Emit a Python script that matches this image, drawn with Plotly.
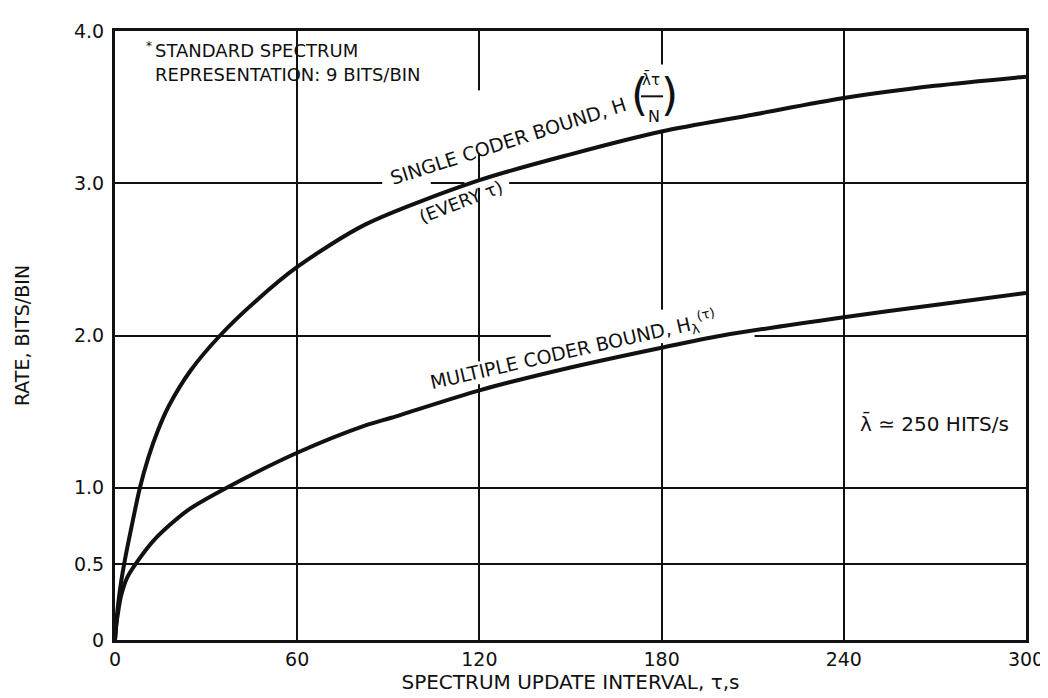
import plotly.graph_objects as go

# ---- data ----
tau_single = [0, 0.5, 1, 2, 3.2, 5, 8.2, 11, 14, 17.8, 24.9, 34.6, 46.6, 60, 82.5, 120, 150, 180, 210, 240, 270, 300]
rate_single = [0, 0.13, 0.23, 0.38, 0.52, 0.70, 1.0, 1.2, 1.37, 1.54, 1.77, 2.0, 2.23, 2.45, 2.73, 3.02, 3.19, 3.34, 3.45, 3.56, 3.64, 3.70]

tau_multi = [0, 0.5, 1, 2, 4, 7.5, 13, 23.8, 36.8, 60, 82.5, 91, 120, 150, 180, 200, 240, 270, 300]
rate_multi = [0, 0.11, 0.18, 0.29, 0.41, 0.52, 0.66, 0.85, 1.0, 1.23, 1.41, 1.46, 1.64, 1.79, 1.92, 2.0, 2.12, 2.2, 2.28]

x_ticks = [0, 60, 120, 180, 240, 300]
x_ticklabels = ["0", "60", "120", "180", "240", "300"]
y_ticks = [0, 0.5, 1.0, 2.0, 3.0, 4.0]
y_ticklabels = ["0", "0.5", "1.0", "2.0", "3.0", "4.0"]

FONT = "DejaVu Sans, Liberation Sans, sans-serif"
INK = "#111111"

fig = go.Figure()
for tx, ty in ((tau_single, rate_single), (tau_multi, rate_multi)):
    fig.add_trace(go.Scatter(x=tx, y=ty, mode="lines",
                             line=dict(color=INK, width=4, shape="spline", smoothing=0.8),
                             showlegend=False, hoverinfo="skip"))

ann = []
def A(text, x, y, size=18, angle=0, xanchor="center", yanchor="middle", align="center"):
    ann.append(dict(text=text, x=x, y=y, xref="x", yref="y", showarrow=False,
                    textangle=angle, xanchor=xanchor, yanchor=yanchor, align=align,
                    font=dict(family=FONT, size=size, color=INK), borderpad=0))

A("*", 12.6, 3.90, size=12, xanchor="right")
A("STANDARD SPECTRUM", 13.0, 3.872, size=18, xanchor="left")
A("REPRESENTATION: 9 BITS/BIN", 13.0, 3.715, size=18, xanchor="left")
A("SINGLE CODER BOUND, H", 129.4, 3.28, size=19, angle=-17.7)
A("(", 172.8, 3.58, size=44)
A(")", 182.6, 3.58, size=44)
A("λ̄τ", 176.6, 3.68, size=15)
A("N", 177.6, 3.44, size=16)
A("(EVERY τ)", 114.0, 2.88, size=18, angle=-21)
A("MULTIPLE CODER BOUND, H<sub>λ</sub><sup>(τ)</sup>", 151.0, 1.90, size=19, angle=-12.8)
A("λ̄ ≃ 250 HITS/s", 270, 1.424, size=20)

# white masks that break the grid lines behind the labels (drawn under the curves)
def gap(x0, x1, y0, y1):
    return dict(type="rect", xref="x", yref="y", x0=x0, x1=x1, y0=y0, y1=y1,
                fillcolor="white", line=dict(width=0), layer="between")

shapes = [
    gap(143.5, 210.6, 1.97, 2.03),
    gap(88.0, 104.0, 2.97, 3.03),
    gap(115.1, 129.8, 2.97, 3.03),
    gap(119.3, 120.7, 3.20, 3.61),
    gap(179.3, 180.7, 3.35, 3.78),
    gap(179.3, 180.7, 1.95, 2.17),
    gap(119.3, 120.7, 1.68, 1.83),
    dict(type="line", xref="x", yref="y", x0=173.2, x1=180.5, y0=3.571, y1=3.571,
         line=dict(color=INK, width=2)),
]

fig.update_layout(
    width=1048, height=698,
    margin=dict(l=107, r=21, t=17, b=66),
    paper_bgcolor="white", plot_bgcolor="white",
    font=dict(family=FONT, size=18, color=INK),
    annotations=ann,
    shapes=shapes,
    xaxis=dict(range=[0, 300], tickvals=x_ticks, ticktext=x_ticklabels,
               showgrid=True, gridcolor=INK, gridwidth=1.5, zeroline=False,
               showline=True, linecolor=INK, linewidth=3, mirror=True, ticks="",
               tickfont=dict(size=19, color=INK),
               title=dict(text="SPECTRUM UPDATE INTERVAL, τ,s", font=dict(size=20, color=INK), standoff=6)),
    yaxis=dict(range=[0, 4], tickvals=y_ticks, ticktext=y_ticklabels,
               showgrid=True, gridcolor=INK, gridwidth=1.5, zeroline=False,
               showline=True, linecolor=INK, linewidth=3, mirror=True, ticks="",
               tickfont=dict(size=19, color=INK), ticklabelstandoff=4,
               title=dict(text="RATE, BITS/BIN", font=dict(size=19, color=INK), standoff=40)),
)

fig.write_html("out.html")
